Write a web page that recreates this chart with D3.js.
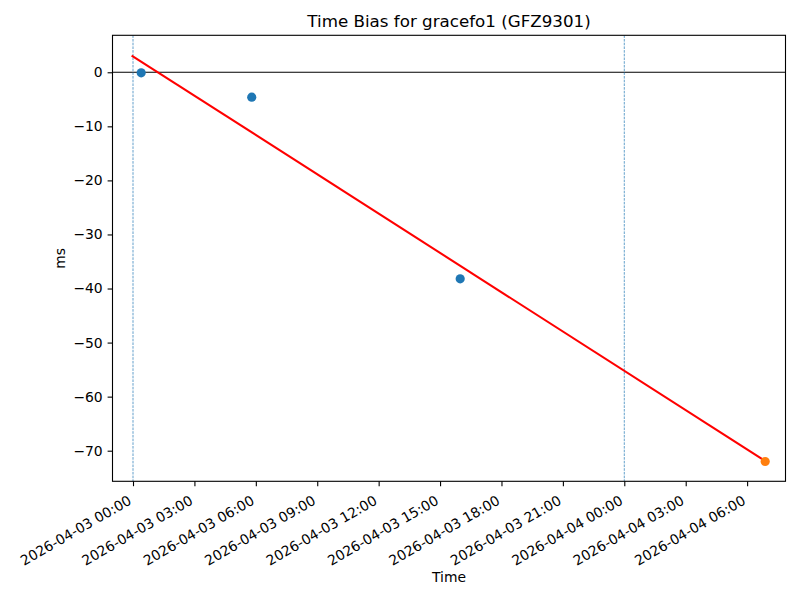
<!DOCTYPE html>
<html>
<head>
<meta charset="utf-8">
<script src="https://cdn.jsdelivr.net/npm/d3@7"></script>
<style>
  body { margin: 0; background: #fff; }
  text { font-family: "DejaVu Sans", sans-serif; fill: #000; }
</style>
</head>
<body>
<svg id="chart" width="800" height="600"></svg>
<script>
// ---- data ----
const title = "Time Bias for gracefo1 (GFZ9301)";
const xLabel = "Time";
const yLabel = "ms";
const obsTimes = ["2026-04-03T00:24:00Z", "2026-04-03T05:48:00Z", "2026-04-03T15:59:00Z"];
const obsValues = [-0.1, -4.6, -38.2];
const lastTime = ["2026-04-04T06:53:00Z"];
const lastValue = [-72.0];
const fitTimes = ["2026-04-02T23:56:00Z", "2026-04-04T06:53:00Z"];
const fitValues = [3.1, -71.9];
const dayLines = ["2026-04-03T00:00:00Z", "2026-04-04T00:00:00Z"];
const xDomain = ["2026-04-02T22:59:54Z", "2026-04-04T07:52:30Z"];
const yDomain = [-75.66, 6.84];
const yTicks = [0, -10, -20, -30, -40, -50, -60, -70];
const xTicks = ["2026-04-03T00:00:00Z", "2026-04-03T03:00:00Z", "2026-04-03T06:00:00Z",
  "2026-04-03T09:00:00Z", "2026-04-03T12:00:00Z", "2026-04-03T15:00:00Z",
  "2026-04-03T18:00:00Z", "2026-04-03T21:00:00Z", "2026-04-04T00:00:00Z",
  "2026-04-04T03:00:00Z", "2026-04-04T06:00:00Z"];

// ---- layout ----
const L = 112.5, R = 785.5, T = 35.3, B = 481.3;
const svg = d3.select("#chart");
const parse = s => new Date(s);

const x = d3.scaleUtc().domain(xDomain.map(parse)).range([L, R]);
const y = d3.scaleLinear().domain(yDomain).range([B, T]);

const fmtX = d3.utcFormat("%Y-%m-%d %H:%M");
const fmtY = v => (v < 0 ? "\u2212" + Math.abs(v) : String(v));

const clipId = "plotclip";
svg.append("defs").append("clipPath").attr("id", clipId)
  .append("rect").attr("x", L).attr("y", T).attr("width", R - L).attr("height", B - T);

const plot = svg.append("g").attr("clip-path", `url(#${clipId})`);

// zero line
plot.append("line")
  .attr("x1", L).attr("x2", R)
  .attr("y1", y(0)).attr("y2", y(0))
  .attr("stroke", "#000").attr("stroke-width", 1.1);

// day boundary lines
plot.selectAll(".day").data(dayLines).enter().append("line")
  .attr("x1", d => x(parse(d))).attr("x2", d => x(parse(d)))
  .attr("y1", T).attr("y2", B)
  .attr("stroke", "#1f77b4").attr("stroke-width", 0.7)
  .attr("stroke-dasharray", "2.6,1.1");

// fit line
const fit = fitTimes.map((t, i) => ({ t: parse(t), v: fitValues[i] }));
plot.append("path")
  .datum(fit)
  .attr("d", d3.line().x(d => x(d.t)).y(d => y(d.v)))
  .attr("fill", "none").attr("stroke", "#ff0000").attr("stroke-width", 2.08);

// observations
const obs = obsTimes.map((t, i) => ({ t: parse(t), v: obsValues[i] }));
plot.selectAll(".obs").data(obs).enter().append("circle")
  .attr("cx", d => x(d.t)).attr("cy", d => y(d.v)).attr("r", 4.6)
  .attr("fill", "#1f77b4");

const last = lastTime.map((t, i) => ({ t: parse(t), v: lastValue[i] }));
plot.selectAll(".last").data(last).enter().append("circle")
  .attr("cx", d => x(d.t)).attr("cy", d => y(d.v)).attr("r", 4.6)
  .attr("fill", "#ff7f0e");

// frame
svg.append("rect").attr("x", L).attr("y", T).attr("width", R - L).attr("height", B - T)
  .attr("fill", "none").attr("stroke", "#000").attr("stroke-width", 1.1);

// x axis
const xAxis = svg.append("g").attr("transform", `translate(0,${B})`)
  .call(d3.axisBottom(x).tickValues(xTicks.map(parse)).tickFormat(fmtX).tickSizeOuter(0).tickSize(4.9));
xAxis.select(".domain").remove();
xAxis.selectAll(".tick line").attr("stroke", "#000").attr("stroke-width", 1.1);
xAxis.selectAll(".tick text")
  .attr("font-size", "13.9px").attr("font-family", "DejaVu Sans")
  .attr("text-anchor", "end")
  .attr("dy", null)
  .attr("y", null)
  .attr("transform", "translate(-1,22) rotate(-30)");

// y axis
const yAxis = svg.append("g").attr("transform", `translate(${L},0)`)
  .call(d3.axisLeft(y).tickValues(yTicks).tickFormat(fmtY).tickSizeOuter(0).tickSize(4.9).tickPadding(4.9));
yAxis.select(".domain").remove();
yAxis.selectAll(".tick line").attr("stroke", "#000").attr("stroke-width", 1.1);
yAxis.selectAll(".tick text")
  .attr("font-size", "13.9px").attr("font-family", "DejaVu Sans");

// title & labels
svg.append("text").attr("x", (L + R) / 2).attr("y", 27)
  .attr("text-anchor", "middle").attr("font-size", "16.7px").text(title);
svg.append("text").attr("x", (L + R) / 2).attr("y", 582)
  .attr("text-anchor", "middle").attr("font-size", "13.9px").text(xLabel);
svg.append("text").attr("transform", `translate(65,${(T + B) / 2}) rotate(-90)`)
  .attr("text-anchor", "middle").attr("font-size", "13.9px").text(yLabel);
</script>
</body>
</html>
